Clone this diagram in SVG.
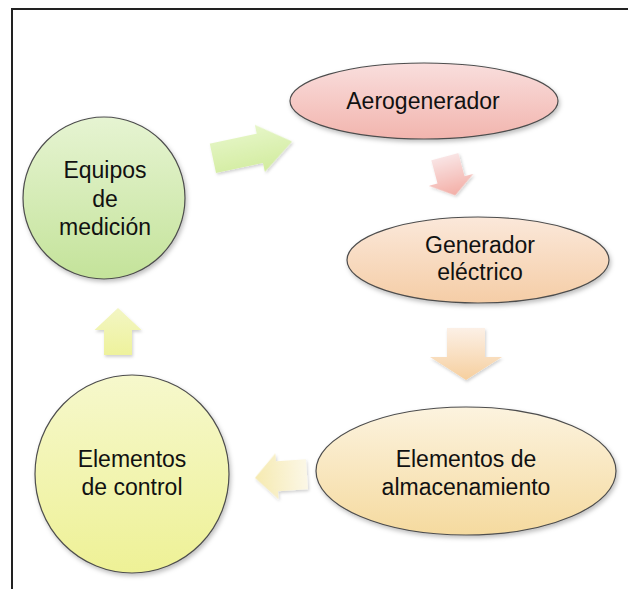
<svg xmlns="http://www.w3.org/2000/svg" width="628" height="589" viewBox="0 0 628 589">
<defs>
<filter id="sh" x="-20%" y="-20%" width="140%" height="140%">
<feDropShadow dx="1.5" dy="2.5" stdDeviation="2" flood-color="#000" flood-opacity="0.25"/>
</filter>
<filter id="ash" x="-30%" y="-30%" width="160%" height="160%">
<feDropShadow dx="1" dy="2" stdDeviation="1.5" flood-color="#000" flood-opacity="0.18"/>
</filter>
<linearGradient id="gGreen" x1="0" y1="0" x2="0" y2="1">
<stop offset="0" stop-color="#e6f4d2"/><stop offset="1" stop-color="#c4e39a"/>
</linearGradient>
<linearGradient id="gPink" x1="0" y1="0" x2="0" y2="1">
<stop offset="0" stop-color="#f9dedd"/><stop offset="1" stop-color="#f2b5ae"/>
</linearGradient>
<linearGradient id="gPeach" x1="0" y1="0" x2="0" y2="1">
<stop offset="0" stop-color="#fbe8da"/><stop offset="1" stop-color="#f5cda6"/>
</linearGradient>
<linearGradient id="gTan" x1="0" y1="0" x2="0" y2="1">
<stop offset="0" stop-color="#fcf3df"/><stop offset="1" stop-color="#f5da9f"/>
</linearGradient>
<linearGradient id="gYellow" x1="0" y1="0" x2="0" y2="1">
<stop offset="0" stop-color="#f6f8cc"/><stop offset="1" stop-color="#eef196"/>
</linearGradient>
<linearGradient id="aGreen" x1="0" y1="0" x2="0" y2="1">
<stop offset="0" stop-color="#e6f6c8"/><stop offset="1" stop-color="#d2ec9e"/>
</linearGradient>
<linearGradient id="aPink" x1="0" y1="0" x2="0" y2="1">
<stop offset="0" stop-color="#f9e4e4"/><stop offset="1" stop-color="#f3aea6"/>
</linearGradient>
<linearGradient id="aPeach" x1="0" y1="0" x2="0" y2="1">
<stop offset="0" stop-color="#fcf0e6"/><stop offset="1" stop-color="#f6cf9e"/>
</linearGradient>
<linearGradient id="aTan" x1="1" y1="0" x2="0" y2="0">
<stop offset="0" stop-color="#fbf7e6"/><stop offset="1" stop-color="#f6eab0"/>
</linearGradient>
<linearGradient id="aYellow" x1="0" y1="1" x2="0" y2="0">
<stop offset="0" stop-color="#eef29c"/><stop offset="1" stop-color="#f3f6c4"/>
</linearGradient>
<style>
.node{stroke:#4d4d4d;stroke-width:1.2;filter:url(#sh)}
.lbl{font-family:"Liberation Sans",Arial,sans-serif;font-size:23px;fill:#111;text-anchor:middle}
.arr{stroke:none;filter:url(#ash)}
.frame{stroke:#222;stroke-width:2;fill:none}
</style>
</defs>
<rect width="628" height="589" fill="#fff"/>
<path class="frame" d="M12,589 V9 H628"/>

<g id="connectors">
<polygon class="arr" fill="url(#aGreen)" transform="translate(252,150) rotate(-12)" points="-40,-15 8,-15 8,-24 41,0 8,24 8,15 -40,15"/>
<polygon class="arr" fill="url(#aPink)" transform="translate(450,176) rotate(-15)" points="-14,-20 14,-20 14,4 23,4 0,20 -23,4 -14,4"/>
<polygon class="arr" fill="url(#aPeach)" transform="translate(466,354)" points="-19,-26 19,-26 19,3 36,3 0,26 -36,3 -19,3"/>
<polygon class="arr" fill="url(#aTan)" transform="translate(281,476) rotate(-4)" points="26,-15 26,15 -4,15 -4,23 -26,0 -4,-23 -4,-15"/>
<polygon class="arr" fill="url(#aYellow)" transform="translate(118,331)" points="-14,24 14,24 14,-1 23.5,-1 0,-23 -23.5,-1 -14,-1"/>
</g>

<g id="n-aerogenerador">
<ellipse class="node" cx="424" cy="101" rx="134" ry="38" fill="url(#gPink)"/>
<text class="lbl" x="423" y="109">Aerogenerador</text>
</g>

<g id="n-generador">
<ellipse class="node" cx="478" cy="260" rx="131" ry="43" fill="url(#gPeach)"/>
<text class="lbl" x="480" y="253">Generador</text>
<text class="lbl" x="480" y="280">eléctrico</text>
</g>

<g id="n-almacenamiento">
<ellipse class="node" cx="466" cy="471" rx="150" ry="64" fill="url(#gTan)"/>
<text class="lbl" x="466" y="467">Elementos de</text>
<text class="lbl" x="466" y="495">almacenamiento</text>
</g>

<g id="n-control">
<ellipse class="node" cx="132" cy="474" rx="97" ry="99" fill="url(#gYellow)"/>
<text class="lbl" x="132" y="467">Elementos</text>
<text class="lbl" x="132" y="495">de control</text>
</g>

<g id="n-equipos">
<circle class="node" cx="104" cy="198" r="81" fill="url(#gGreen)"/>
<text class="lbl" x="105" y="178">Equipos</text>
<text class="lbl" x="105" y="207">de</text>
<text class="lbl" x="105" y="235">medición</text>
</g>
</svg>
